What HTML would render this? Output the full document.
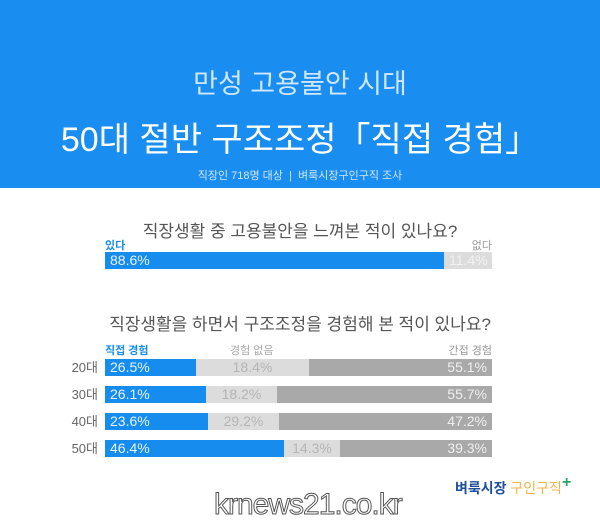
<!DOCTYPE html>
<html><head><meta charset="utf-8"><style>
*{margin:0;padding:0;box-sizing:border-box}
body{width:600px;height:524px;background:#fff;position:relative;overflow:hidden;font-family:"Liberation Sans","Noto Sans CJK KR",sans-serif}
.a{position:absolute;white-space:nowrap}
.hdr{position:absolute;left:0;top:0;width:600px;height:188px;background:#1a8df0}
.b{position:absolute;height:17px;font-size:14px;line-height:17px;padding:0 5px}
.bl{background:#168cef;color:#e8f4ff}
.lg{background:#dcdcdc;color:#b5b5b5;text-align:center}
.dg{background:#a9a9a9;color:#eeeeee;text-align:right}
.age{position:absolute;left:62px;width:36px;text-align:right;font-size:13px;color:#666;line-height:17px}
</style></head><body>
<div class="hdr"></div>
<div class="a" style="left:0;width:600px;top:62px;text-align:center;font-size:27px;color:#cfe6fc">만성 고용불안 시대</div>
<div class="a" style="left:0;width:600px;top:112px;text-align:center;font-size:34px;color:#fff">50대 절반 구조조정「직접 경험」</div>
<div class="a" style="left:0;width:600px;top:167px;text-align:center;font-size:11px;color:#cfe6fc">직장인 718명 대상 &nbsp;|&nbsp; 벼룩시장구인구직 조사</div>

<div class="a" style="left:0;width:600px;top:217px;text-align:center;font-size:17px;color:#555">직장생활 중 고용불안을 느껴본 적이 있나요?</div>
<div class="a" style="left:105px;top:237px;font-size:11px;color:#168cef;font-weight:bold">있다</div>
<div class="a" style="left:460px;width:32px;text-align:right;top:237px;font-size:11px;color:#999">없다</div>
<div class="b bl" style="left:105px;top:252px;width:339px">88.6%</div>
<div class="b lg" style="left:444px;top:252px;width:48px;color:#f2f2f2">11.4%</div>

<div class="a" style="left:0;width:600px;top:310px;text-align:center;font-size:17px;color:#555">직장생활을 하면서 구조조정을 경험해 본 적이 있나요?</div>
<div class="a" style="left:105px;top:342px;font-size:11px;color:#168cef;font-weight:bold">직접 경험</div>
<div class="a" style="left:230px;top:342px;font-size:11px;color:#aaa">경험 없음</div>
<div class="a" style="left:440px;width:52px;text-align:right;top:342px;font-size:11px;color:#999">간접 경험</div>

<div class="age" style="top:359px">20대</div>
<div class="b bl" style="left:105px;top:359px;width:91px">26.5%</div>
<div class="b lg" style="left:196px;top:359px;width:113px">18.4%</div>
<div class="b dg" style="left:309px;top:359px;width:183px">55.1%</div>

<div class="age" style="top:386px">30대</div>
<div class="b bl" style="left:105px;top:386px;width:101px">26.1%</div>
<div class="b lg" style="left:206px;top:386px;width:71px">18.2%</div>
<div class="b dg" style="left:277px;top:386px;width:215px">55.7%</div>

<div class="age" style="top:413px">40대</div>
<div class="b bl" style="left:105px;top:413px;width:103px">23.6%</div>
<div class="b lg" style="left:208px;top:413px;width:71px">29.2%</div>
<div class="b dg" style="left:279px;top:413px;width:213px">47.2%</div>

<div class="age" style="top:440px">50대</div>
<div class="b bl" style="left:105px;top:440px;width:179px">46.4%</div>
<div class="b lg" style="left:284px;top:440px;width:56px">14.3%</div>
<div class="b dg" style="left:340px;top:440px;width:152px">39.3%</div>

<div class="a" style="left:455px;top:478px;font-size:14px;font-weight:bold;color:#1d4f9c">벼룩시장 <span style="color:#f0b54a;font-weight:normal">구인구직</span><span style="color:#2aa36b;font-size:16px;position:relative;top:-6px">+</span></div>
<div class="a" style="left:214px;top:488px;font-size:30px;color:#fff;-webkit-text-stroke:1px #555;letter-spacing:-1px">krnews21.co.kr</div>
</body></html>
